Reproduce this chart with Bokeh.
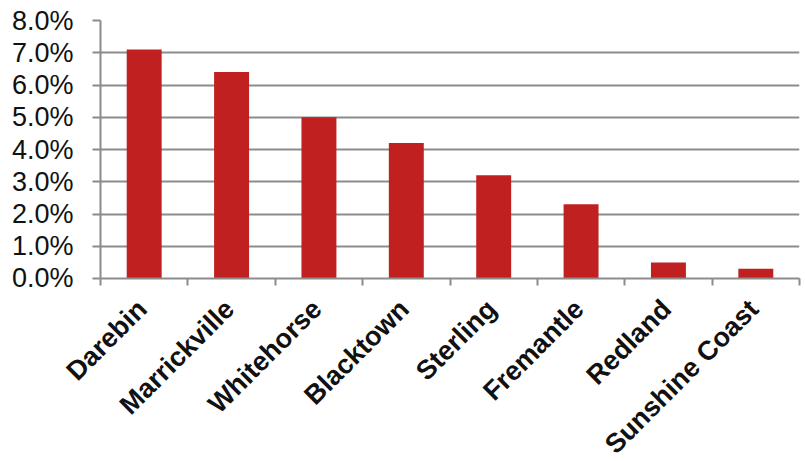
from bokeh.plotting import figure
from bokeh.layouts import column
from bokeh.models import Range1d, FixedTicker, NumeralTickFormatter, LinearAxis
from bokeh.core.properties import value
from bokeh.embed import file_html
from bokeh.resources import INLINE
import math

# Share of residents by local council area
councils = ["Darebin", "Marrickville", "Whitehorse", "Blacktown",
            "Sterling", "Fremantle", "Redland", "Sunshine Coast"]
shares = [0.071, 0.064, 0.050, 0.042, 0.032, 0.023, 0.005, 0.003]
y_ticks = [0.0, 0.01, 0.02, 0.03, 0.04, 0.05, 0.06, 0.07, 0.08]
y_max = 0.08

n = len(councils)
centers = [i + 0.5 for i in range(n)]
edges = [float(i) for i in range(n + 1)]

GRID = "#8c8c8c"
BAR = "#c02020"
FONT = "Liberation Sans"

# page layout in pixels
W = 805
LEFT, RIGHT, TOP = 100, 6, 20
ZERO_Y = 278           # pixel row of the 0% line
CHART_H = 292          # bar panel incl. room for the ticks and the 0.0% label
LABEL_H = 461 - CHART_H

# ---- bar panel ----
p = figure(width=W, height=CHART_H, output_backend="svg", toolbar_location=None,
           x_range=Range1d(0, n), y_range=Range1d(0, y_max),
           min_border_left=LEFT, min_border_right=RIGHT, min_border_top=TOP,
           min_border_bottom=CHART_H - ZERO_Y, x_axis_type=None)
p.frame_align = False
p.outline_line_color = None
p.background_fill_color = "white"
p.border_fill_color = "white"

p.vbar(x=centers, top=shares, width=0.4, bottom=0,
       fill_color=BAR, line_color=None)

# zero line with tick marks at the category boundaries
xaxis = LinearAxis(ticker=FixedTicker(ticks=[], minor_ticks=edges))
xaxis.major_label_standoff = 0
xaxis.major_tick_out = 0
xaxis.major_tick_in = 0
xaxis.minor_tick_out = 7
xaxis.minor_tick_in = 0
xaxis.minor_tick_line_color = GRID
xaxis.minor_tick_line_width = 2
xaxis.axis_line_color = GRID
xaxis.axis_line_width = 2
p.add_layout(xaxis, "below")

yaxis = p.yaxis[0]
yaxis.ticker = FixedTicker(ticks=y_ticks)
yaxis.formatter = NumeralTickFormatter(format="0.0%")
yaxis.major_label_text_font = FONT
yaxis.major_label_text_font_size = "27px"
yaxis.major_label_text_color = "#111111"
yaxis.major_label_standoff = 19
yaxis.major_tick_out = 8
yaxis.major_tick_in = 0
yaxis.major_tick_line_color = GRID
yaxis.major_tick_line_width = 2
yaxis.minor_tick_line_color = None
yaxis.axis_line_color = GRID
yaxis.axis_line_width = 2

p.ygrid.grid_line_color = GRID
p.ygrid.grid_line_width = 2
p.xgrid.visible = False

# ---- slanted council names, on a strip sharing the bar panel's x scale ----
unit = (W - LEFT - RIGHT) / n
q = figure(width=W, height=LABEL_H, output_backend="svg", toolbar_location=None,
           x_range=Range1d(-LEFT / unit, n + RIGHT / unit), y_range=Range1d(0, 1),
           min_border=0, x_axis_type=None, y_axis_type=None)
q.frame_align = False
q.outline_line_color = None
q.background_fill_color = "white"
q.border_fill_color = "white"
q.grid.visible = False

q.text(x=centers, y=[1] * n, text=councils, angle=math.pi / 4,
       x_offset=-2, y_offset=12,
       text_align="right", text_baseline="middle",
       text_font=value(FONT), text_font_style="bold",
       text_font_size="27px", text_color="#111111")

open("out.html", "w").write(file_html(column(p, q, spacing=0), INLINE))
